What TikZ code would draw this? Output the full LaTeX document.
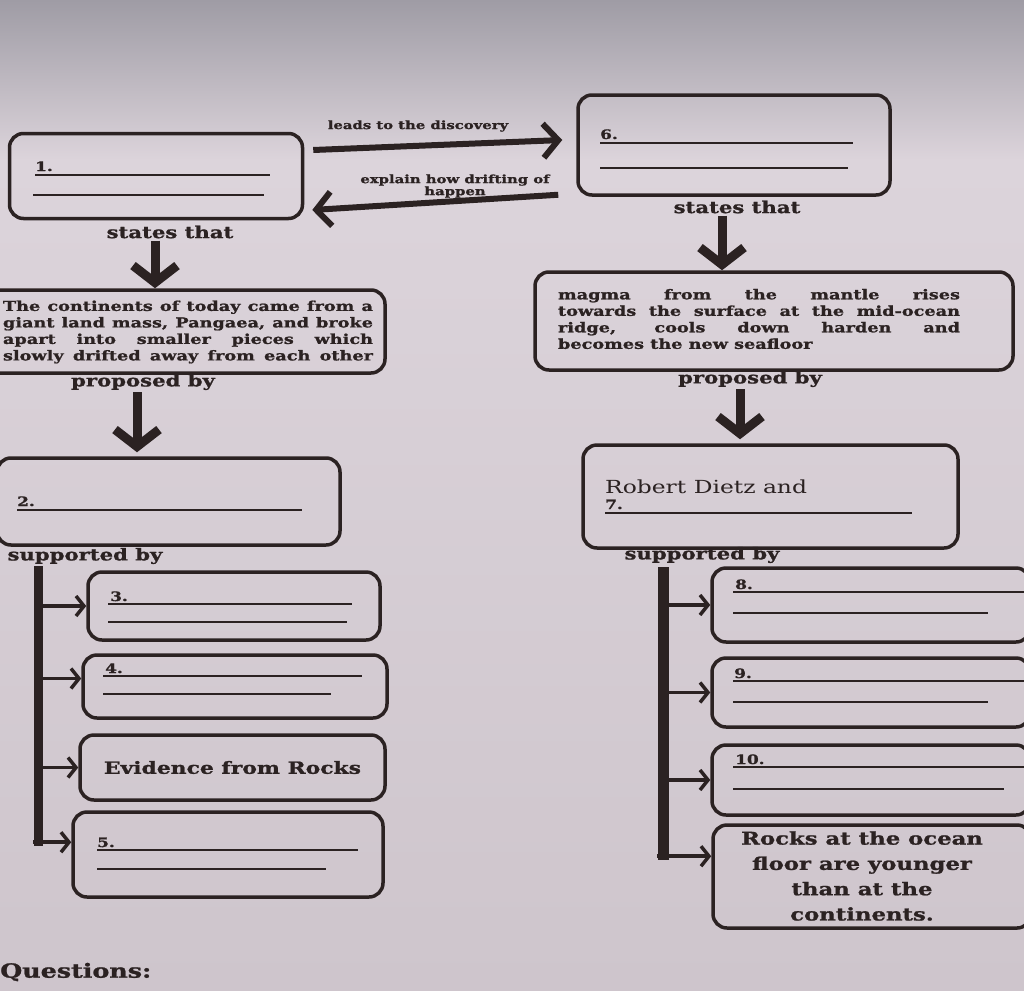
\documentclass[tikz,border=0pt]{standalone}
\usepackage{fontspec}
\setmainfont{DejaVu Serif}[FakeStretch=1.3, BoldFeatures={FakeBold=1.2}]
\usetikzlibrary{arrows.meta}
\definecolor{ink}{HTML}{2B2222}
\definecolor{bgtop}{HTML}{9F9CA5}
\definecolor{bgup}{HTML}{DCD4DB}
\definecolor{bgmid}{HTML}{E8E0E6}
\definecolor{bgbot}{HTML}{CEC5CC}
\tikzset{
  box/.style={draw=ink, line width=3.5pt, rounded corners=14pt, inner sep=0pt},
  blank/.style={draw=ink, line width=1.8pt},
  lbl/.style={text=ink, font=\bfseries\fontsize{16.3}{18}\selectfont, inner sep=1pt},
  small/.style={text=ink, font=\bfseries\fontsize{11.4}{12}\selectfont, inner sep=0pt, align=center},
  num/.style={text=ink, font=\bfseries\fontsize{13}{14}\selectfont, anchor=base west, inner sep=0pt},
  para/.style={text=ink, font=\bfseries\fontsize{13.6}{16.5}\selectfont, inner sep=0pt, align=left},
  bigarrow/.style={draw=ink, line width=6pt, -{Straight Barb[length=15pt,width=34pt]}},
  downarrow/.style={draw=ink, line width=9pt, -{Straight Barb[length=17pt,width=44pt]}},
  sidearrow/.style={draw=ink, line width=3.5pt, -{Straight Barb[length=8pt,width=20pt]}},
  bar/.style={fill=ink, inner sep=0pt},
}
\begin{document}
\begin{tikzpicture}[x=1pt,y=-1pt]
\useasboundingbox (0,0) rectangle (1024,990);
\shade[top color=bgtop, bottom color=bgup] (0,0) rectangle (1024,160);
\shade[top color=bgup, middle color=bgmid, bottom color=bgbot] (0,160) rectangle (1024,990);
\clip (0,0) rectangle (1024,990);

% ---- top row boxes
\node[box, minimum width=293pt, minimum height=85pt] (b1) at (156,176) {};
\node[num] (n1) at (35,171) {1.};
\draw[blank] (35,175) -- (270,175);
\draw[blank] (33,195) -- (264,195);

\node[box, minimum width=312pt, minimum height=100pt] (b6) at (734,145) {};
\node[num] (n6) at (600,139) {6.};
\draw[blank] (600,143) -- (853,143);
\draw[blank] (600,168) -- (848,168);

% ---- arrows between top boxes
\draw[bigarrow] ([xshift=9pt,yshift=26pt]b1.east) -- ([xshift=-14pt,yshift=5pt]b6.west);
\node[small] (t1) at (418,126) {leads to the discovery};
\draw[bigarrow] ([xshift=-18pt,yshift=2pt]b6.south west) -- ([xshift=8pt,yshift=-34pt]b1.east);
\node[small] (t2) at (455,186) {explain how drifting of\\happen};

% ---- states that
\node[lbl] (st1) at (170,232) {states that};
\node[lbl] (st6) at (737,207) {states that};

% ---- theory text boxes
\node[box, minimum width=413pt, minimum height=83pt] (lt) at (178.5,331.5) {};
\node[para] (ltx) at (188,332) {%
\makebox[370pt][s]{The continents of today came from a}\\
\makebox[370pt][s]{giant land mass, Pangaea, and broke}\\
\makebox[370pt][s]{apart into smaller pieces which}\\
\makebox[370pt][s]{slowly drifted away from each other}};

\node[box, minimum width=478pt, minimum height=98pt] (rt) at (774,321) {};
\node[para] (rtx) at (759,319) {%
\makebox[402pt][s]{magma from the mantle rises}\\
\makebox[402pt][s]{towards the surface at the mid-ocean}\\
\makebox[402pt][s]{ridge, cools down harden and}\\
\makebox[402pt][l]{becomes the new seafloor}};

\coordinate (s1a) at ([xshift=-15pt,yshift=-1pt]st1.south);
\draw[downarrow] (s1a) -- (s1a |- lt.north);
\coordinate (s6a) at ([xshift=-15pt,yshift=-1pt]st6.south);
\draw[downarrow] (s6a) -- (s6a |- rt.north);

% ---- proposed by
\node[lbl] (pl) at (143,382) {proposed by};
\node[lbl] (pr) at (750,379) {proposed by};

\node[box, minimum width=343pt, minimum height=87pt] (b2) at (168.5,501.5) {};
\node[num] (n2) at (17,506) {2.};
\draw[blank] (17,510) -- (302,510);

\node[box, minimum width=375pt, minimum height=103pt] (b7) at (770.5,496.5) {};
\node[text=ink, font=\fontsize{18}{20}\selectfont, anchor=base west, inner sep=0pt] (rd) at (605,493) {Robert Dietz and};
\node[num] (n7) at (605,509) {7.};
\draw[blank] (605,513) -- (912,513);

\coordinate (p1a) at ([xshift=-6pt,yshift=-1pt]pl.south);
\draw[downarrow, shorten >=4pt] (p1a) -- (p1a |- b2.north);
\coordinate (p2a) at ([xshift=-10pt,yshift=-1pt]pr.south);
\draw[downarrow, shorten >=4pt] (p2a) -- (p2a |- b7.north);

% ---- supported by
\node[lbl] (sl) at (85,556) {supported by};
\node[lbl] (sr) at (702,555) {supported by};

% left column
\node[bar, minimum width=9pt, minimum height=280pt] (lbar) at (38,706) {};
\node[box, minimum width=292pt, minimum height=68pt] (b3) at (234,606) {};
\node[num] (n3) at (110,601) {3.};
\draw[blank] (108,604) -- (352,604);
\draw[blank] (108,622) -- (347,622);

\node[box, minimum width=304pt, minimum height=63pt] (b4) at (235,686.5) {};
\node[num] (n4) at (105,673) {4.};
\draw[blank] (103,676) -- (362,676);
\draw[blank] (103,694) -- (331,694);

\node[box, minimum width=305pt, minimum height=65pt, text=ink, font=\bfseries\fontsize{16.8}{18}\selectfont] (bev) at (232.5,767.5) {Evidence from Rocks};

\node[box, minimum width=310pt, minimum height=85pt] (b5) at (228,854.5) {};
\node[num] (n5) at (97,847) {5.};
\draw[blank] (97,850) -- (358,850);
\draw[blank] (97,869) -- (326,869);

\draw[sidearrow] (lbar.east |- b3.west) -- (b3.west);
\coordinate (l4) at ([yshift=8pt]b4.west);
\draw[sidearrow] (l4 -| lbar.east) -- (l4);
\draw[sidearrow] (lbar.east |- bev.west) -- (bev.west);
\coordinate (l5) at ([yshift=4pt]lbar.south west);
\draw[sidearrow] (l5) -- (l5 -| b5.west);

% right column
\node[bar, minimum width=11pt, minimum height=293pt] (rbar) at (663,713.5) {};
\node[box, minimum width=318pt, minimum height=74pt] (b8) at (871,605) {};
\node[num] (n8) at (735,589) {8.};
\draw[blank] (733,592) -- (1024,592);
\draw[blank] (733,613) -- (988,613);

\node[box, minimum width=318pt, minimum height=69pt] (b9) at (871,692.5) {};
\node[num] (n9) at (734,678) {9.};
\draw[blank] (733,681) -- (1024,681);
\draw[blank] (733,702) -- (988,702);

\node[box, minimum width=318pt, minimum height=70pt] (b10) at (871,780) {};
\node[num] (n10) at (735,764) {10.};
\draw[blank] (733,767) -- (1024,767);
\draw[blank] (733,789) -- (1004,789);

\node[box, minimum width=318pt, minimum height=103pt] (brk) at (872,876.5) {};
\node[text=ink, font=\bfseries\fontsize{17.5}{25.3}\selectfont, align=center, inner sep=0pt] (rkx) at (862,876) {Rocks at the ocean\\floor are younger\\than at the\\continents.};

\draw[sidearrow] (rbar.east |- b8.west) -- (b8.west);
\draw[sidearrow] (rbar.east |- b9.west) -- (b9.west);
\draw[sidearrow] (rbar.east |- b10.west) -- (b10.west);
\coordinate (r4) at ([yshift=4pt]rbar.south west);
\draw[sidearrow] (r4) -- (r4 -| brk.west);

% ---- questions
\node[text=ink, font=\bfseries\fontsize{19.5}{22}\selectfont, anchor=west, inner sep=0pt] (q) at (0,972) {Questions:};
\end{tikzpicture}
\end{document}
